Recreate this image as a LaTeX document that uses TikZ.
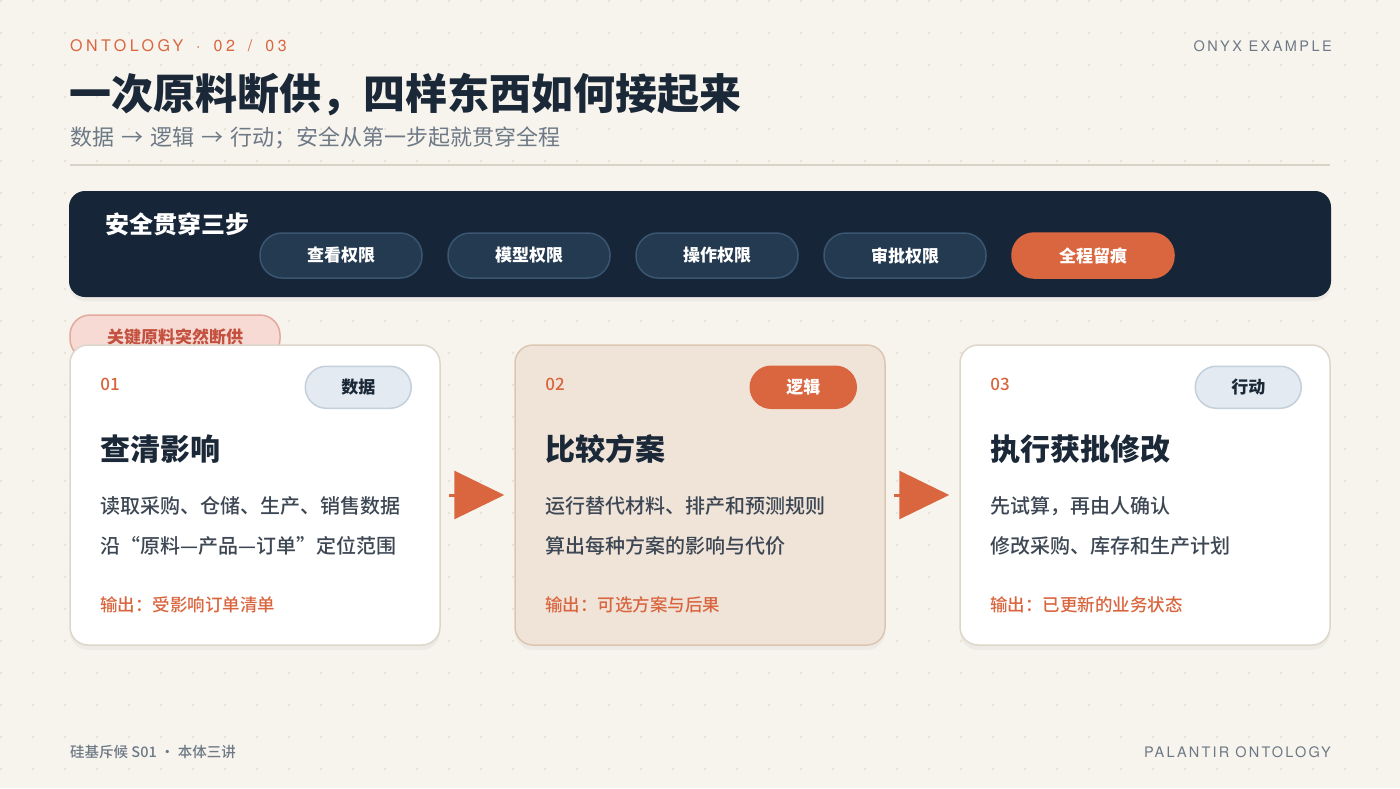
\documentclass[tikz,border=0pt]{standalone}
\usepackage{fontspec}
\setmainfont{Noto Sans CJK SC}
\newfontfamily\med{Noto Sans CJK SC Medium}
\newfontfamily\kickerfont[LetterSpace=22]{TeX Gyre Heros}
\newfontfamily\capsfont[LetterSpace=17]{TeX Gyre Heros}
\newfontfamily\footcaps[LetterSpace=15]{TeX Gyre Heros}
\usepackage{xcolor}
\usepackage{tikz}
\usetikzlibrary{positioning,shadows,arrows.meta}

\definecolor{paper}{HTML}{F7F4EE}
\definecolor{dotc}{HTML}{E8E2D8}
\definecolor{rust}{HTML}{D9663F}
\definecolor{ink}{HTML}{1B2838}
\definecolor{slate}{HTML}{6E7986}
\definecolor{body}{HTML}{3D4753}
\definecolor{rule}{HTML}{D9D3C7}
\definecolor{navy}{HTML}{172538}
\definecolor{pillc}{HTML}{233A50}
\definecolor{pilledge}{HTML}{3A5670}
\definecolor{cardedge}{HTML}{DDD6CA}
\definecolor{warm}{HTML}{F0E4D9}
\definecolor{warmedge}{HTML}{DCC6B2}
\definecolor{chip}{HTML}{E3EAF1}
\definecolor{chipedge}{HTML}{C3D0DC}
\definecolor{pink}{HTML}{F6DAD3}
\definecolor{pinkedge}{HTML}{E3A99C}
\definecolor{pinktext}{HTML}{C4503F}

\tikzset{
  card/.style={draw=cardedge, line width=1.5pt, fill=white, rounded corners=18pt,
    minimum width=370pt, minimum height=300pt, inner sep=0pt,
    drop shadow={shadow xshift=0pt, shadow yshift=-5pt, opacity=0.07}},
  cardhot/.style={card, fill=warm, draw=warmedge},
  badge/.style={draw=chipedge, line width=1.5pt, fill=chip, rounded corners=21pt,
    minimum width=106pt, minimum height=42pt, text=ink, font=\fontsize{17}{20}\selectfont\bfseries},
  badgehot/.style={badge, fill=rust, draw=rust, text=white},
  pill/.style={draw=pilledge, line width=1.5pt, fill=pillc, rounded corners=22pt,
    minimum width=162pt, minimum height=45pt, text=white, font=\fontsize{17}{20}\selectfont\bfseries},
  flow/.style={draw=rust, line width=3pt, -{Triangle[length=50pt,width=48pt]},
    shorten <=8pt, shorten >=10pt},
}

\begin{document}
\begin{tikzpicture}[x=1pt, y=-1pt]
  % background and dot grid
  \fill[paper] (0,0) rectangle (1400,788);
  \useasboundingbox (0,0) rectangle (1400,788);
  \foreach \i in {0,...,43}
    \foreach \j in {0,...,24}
      \fill[dotc] (1+32*\i, 1+32*\j) circle (1.3pt);

  % header
  \node[anchor=west, text=rust, inner sep=0pt] (kicker) at (70,46)
    {\kickerfont\fontsize{16}{18}\selectfont ONTOLOGY \hspace{5pt}·\hspace{5pt} 02 \hspace{5pt}/\hspace{5pt} 03};
  \node[anchor=east, text=slate, inner sep=0pt] (brand) at (1332,46)
    {\capsfont\fontsize{14.5}{18}\selectfont ONYX EXAMPLE};
  \node[anchor=west, text=ink, inner sep=0pt] (title) at (69,95)
    {\fontsize{42}{50}\selectfont\bfseries 一次原料断供，四样东西如何接起来};
  \node[anchor=west, text=slate, inner sep=0pt] (subtitle) at (70,138)
    {\fontsize{22}{26}\selectfont 数据\hspace{7pt}→\hspace{7pt}逻辑\hspace{7pt}→\hspace{7pt}行动；安全从第一步起就贯穿全程};
  \draw[rule, line width=2pt] (70,165) -- (1330,165);

  % security band
  \node[fill=navy, rounded corners=16pt, minimum width=1262pt, minimum height=106pt,
    drop shadow={shadow xshift=0pt, shadow yshift=-4pt, opacity=0.08}] (band) at (700,244) {};
  \node[anchor=west, text=white, inner sep=0pt] (bandtitle) at (105,224)
    {\fontsize{24}{28}\selectfont\bfseries 安全贯穿三步};
  \foreach \k/\x/\lbl in {p1/341/查看权限, p2/529/模型权限, p3/717/操作权限, p4/905/审批权限}
    \node[pill] (\k) at (\x,255.5) {\lbl};
  \node[pill, fill=rust, draw=rust] (p5) at (1093,255.5) {全程留痕};

  % trigger tag (sits behind the first card)
  \node[draw=pinkedge, line width=1.5pt, fill=pink, rounded corners=20pt,
    minimum width=210pt, minimum height=44pt, text=pinktext,
    font=\fontsize{17}{20}\selectfont\bfseries] (trigger) at (175,337) {关键原料突然断供};

  % step cards
  \foreach \n/\x/\cs/\bs/\num/\tag/\ttl/\la/\lb/\out in {
      c1/255/card/badge/01/数据/查清影响/读取采购、仓储、生产、销售数据/沿“原料—产品—订单”定位范围/输出：受影响订单清单,
      c2/700/cardhot/badgehot/02/逻辑/比较方案/运行替代材料、排产和预测规则/算出每种方案的影响与代价/输出：可选方案与后果,
      c3/1145/card/badge/03/行动/执行获批修改/先试算，再由人确认/修改采购、库存和生产计划/输出：已更新的业务状态} {
    \node[\cs] (\n) at (\x,495) {};
    \node[anchor=west, text=rust, inner sep=0pt] (\n num) at ([shift={(31,40)}]\n.north west)
      {\med\fontsize{17}{20}\selectfont \num};
    \node[\bs] (\n tag) at ([shift={(-82.5,43)}]\n.north east) {\tag};
    \node[anchor=west, text=ink, inner sep=0pt] (\n title) at ([shift={(31,105)}]\n.north west)
      {\fontsize{30}{36}\selectfont\bfseries \ttl};
    \node[anchor=west, text=body, inner sep=0pt] (\n la) at ([shift={(31,162)}]\n.north west)
      {\med\fontsize{20}{24}\selectfont \la};
    \node[anchor=west, text=body, inner sep=0pt] (\n lb) at ([shift={(31,202)}]\n.north west)
      {\med\fontsize{20}{24}\selectfont \lb};
    \node[anchor=west, text=rust, inner sep=0pt] (\n out) at ([shift={(31,261)}]\n.north west)
      {\med\fontsize{17.5}{20}\selectfont \out};
  }

  % flow arrows
  \draw[flow] (c1) -- (c2);
  \draw[flow] (c2) -- (c3);

  % footer
  \node[anchor=west, text=slate, inner sep=0pt] (footleft) at (70,752)
    {\med\fontsize{14.5}{18}\selectfont 硅基斥候 S01 · 本体三讲};
  \node[anchor=east, text=slate, inner sep=0pt] (footright) at (1331,752)
    {\footcaps\fontsize{14.5}{18}\selectfont PALANTIR ONTOLOGY};
\end{tikzpicture}
\end{document}
